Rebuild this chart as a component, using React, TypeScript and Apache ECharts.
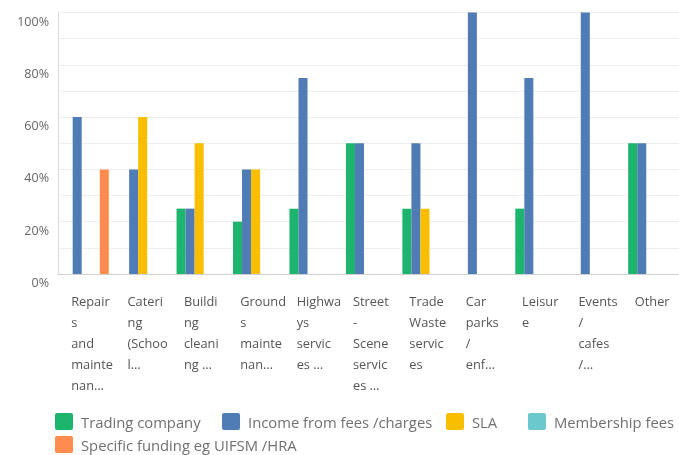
import React, { useEffect, useRef } from "react";
import * as echarts from "echarts";

const categories = [
  "Repair\ns\nand\nmainte\nnan…",
  "Cateri\nng\n(Schoo\nl…",
  "Buildi\nng\ncleani\nng …",
  "Ground\ns\nmainte\nnan…",
  "Highwa\nys\nservic\nes …",
  "Street\n-\nScene\nservic\nes …",
  "Trade\nWaste\nservic\nes",
  "Car\nparks\n/\nenf…",
  "Leisur\ne",
  "Events\n/\ncafes\n/…",
  "Other",
];

const seriesNames = [
  "Trading company",
  "Income from fees /charges",
  "SLA",
  "Membership fees",
  "Specific funding eg UIFSM /HRA",
];

const tradingCompany = [0, 0, 25, 20, 25, 50, 25, 0, 25, 0, 50];
const incomeFromFees = [60, 40, 25, 40, 75, 50, 50, 100, 75, 100, 50];
const sla = [0, 60, 50, 40, 0, 0, 25, 0, 0, 0, 0];
const membershipFees = [0, 0, 0, 0, 0, 0, 0, 0, 0, 0, 0];
const specificFunding = [40, 0, 0, 0, 0, 0, 0, 0, 0, 0, 0];

const yTicks = [0, 20, 40, 60, 80, 100];

const colors = ["#1db46e", "#507cb6", "#f9be00", "#6bc8cd", "#ff8b4f"];
const FONT = "'Open Sans', sans-serif";

export default function App() {
  const ref = useRef<HTMLDivElement>(null);
  useEffect(() => {
    if (!ref.current) return;
    const chart = echarts.init(ref.current, undefined, { renderer: "svg" });
    const values = [tradingCompany, incomeFromFees, sla, membershipFees, specificFunding];
    const legendPos = [
      { left: 55, top: 413 },
      { left: 222, top: 413 },
      { left: 446, top: 413 },
      { left: 528, top: 413 },
      { left: 55, top: 436 },
    ];
    const icon =
      "path://M2,0H16A2,2,0,0,1,18,2V15A2,2,0,0,1,16,17H2A2,2,0,0,1,0,15V2A2,2,0,0,1,2,0Z";
    chart.setOption({
      animation: false,
      color: colors,
      textStyle: { fontFamily: FONT },
      grid: [
        { left: 58, right: 0, top: 12.5, bottom: 181, containLabel: false },
        { left: 43, right: 16, top: 12.5, bottom: 181, containLabel: false },
      ],
      legend: seriesNames.map((n, i) => ({
        data: [n],
        left: legendPos[i].left,
        top: legendPos[i].top,
        padding: 0,
        itemWidth: 18,
        itemHeight: 17,
        icon,
        selectedMode: false,
        textStyle: {
          color: "#707070",
          fontSize: 14.8,
          fontFamily: FONT,
          padding: [0, 0, 0, 3],
        },
      })),
      xAxis: [
        {
          type: "category",
          gridIndex: 0,
          data: categories,
          axisLine: { show: true, lineStyle: { color: "#d0d0d0", width: 1 } },
          axisTick: { show: false },
          axisLabel: { show: false },
          splitLine: { show: false },
        },
        {
          type: "category",
          gridIndex: 1,
          data: categories,
          axisLine: { show: false },
          axisTick: { show: false },
          splitLine: { show: false },
          axisLabel: {
            show: true,
            interval: 0,
            align: "left",
            verticalAlign: "top",
            margin: 16,
            color: "#555",
            fontSize: 12.8,
            lineHeight: 21,
            fontFamily: FONT,
          },
        },
      ],
      yAxis: [
        {
          type: "value",
          gridIndex: 0,
          min: 0,
          max: 100,
          interval: 10,
          axisLine: { show: true, lineStyle: { color: "#dcdcdc" } },
          axisTick: { show: false },
          splitLine: { show: true, lineStyle: { color: "#eeeeee" } },
          axisLabel: {
            margin: 9,
            color: "#666",
            fontSize: 12.5,
            fontFamily: FONT,
            verticalAlign: "top",
            padding: [2, 0, 0, 0],
            formatter: (v: number) => (yTicks.includes(v) ? v + "%" : ""),
          },
        },
        { type: "value", gridIndex: 1, min: 0, max: 100, show: false },
      ],
      series: seriesNames.map((n, i) => ({
        name: n,
        type: "bar",
        xAxisIndex: 0,
        yAxisIndex: 0,
        data: values[i],
        barGap: "0%",
        barCategoryGap: "20%",
        itemStyle: { color: colors[i] },
      })),
    });
    return () => chart.dispose();
  }, []);
  return (
    <div
      ref={ref}
      style={{ position: "fixed", left: 0, top: 0, width: 679, height: 455 }}
    />
  );
}
